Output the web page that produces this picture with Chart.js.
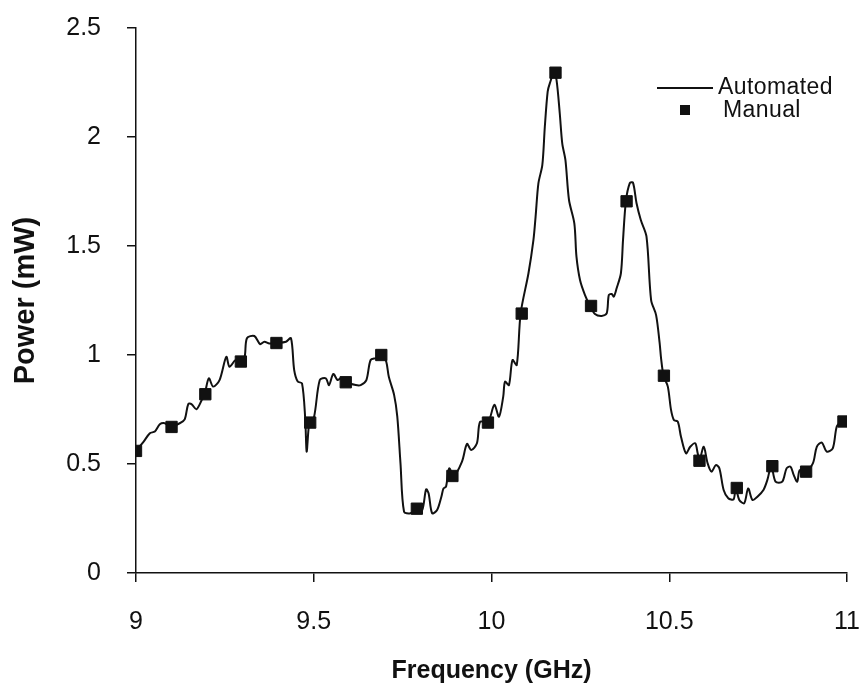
<!DOCTYPE html>
<html lang="en">
<head>
  <meta charset="UTF-8">
  <title>Power vs Frequency</title>
  <script src="https://cdn.jsdelivr.net/npm/chart.js"></script>
  <style>
    body {
      margin: 0;
      background: #ffffff;
      font-family: 'Liberation Sans', Arial, sans-serif;
    }
    .wrap {
      position: relative;
      width: 866px;
      height: 690px;
    }
    /* legend sits inside the plot, top right */
    .legend {
      position: absolute;
      left: 657px;
      top: 75px;
      color: #111;
      font-size: 23px;
      letter-spacing: 0.4px;
    }
    .legend-row { display: flex; align-items: center; height: 23px; }
    .legend-line { width: 56px; height: 2px; background: #111; margin: 3px 5px 0 0; }
    .legend-box { width: 10px; height: 10px; background: #111; margin: 0 33px 0 23px; }
  </style>
</head>
<body>
  <div class="wrap">
    <canvas id="chart" width="866" height="690"></canvas>
    <div class="legend">
      <div class="legend-row"><span class="legend-line"></span>Automated</div>
      <div class="legend-row"><span class="legend-box"></span>Manual</div>
    </div>
  </div>

  <script>
    // Automated sweep (GHz, mW)
    const autoFreq = [
      9.000, 9.021, 9.039, 9.053, 9.067, 9.081, 9.097, 9.123, 9.137, 9.147, 9.156, 9.170, 9.184, 9.193,
      9.205, 9.217, 9.235, 9.254, 9.263, 9.280, 9.293, 9.305, 9.312, 9.333, 9.349, 9.361, 9.375, 9.394,
      9.422, 9.436, 9.445, 9.455, 9.467, 9.476, 9.480, 9.486, 9.490, 9.501, 9.517, 9.534, 9.543, 9.555,
      9.567, 9.576, 9.592, 9.618, 9.632, 9.648, 9.660, 9.676, 9.693, 9.704, 9.711, 9.726, 9.735, 9.744,
      9.754, 9.772, 9.791, 9.805, 9.816, 9.823, 9.833, 9.847, 9.859, 9.865, 9.872, 9.881, 9.894, 9.917,
      9.931, 9.943, 9.959, 9.968, 9.990, 10.008, 10.021, 10.033, 10.038, 10.049, 10.059, 10.071, 10.082,
      10.104, 10.118, 10.124, 10.132, 10.143, 10.150, 10.158, 10.164, 10.176, 10.183, 10.192, 10.199,
      10.208, 10.218, 10.233, 10.239, 10.249, 10.263, 10.277, 10.291, 10.310, 10.324, 10.330, 10.338,
      10.344, 10.352, 10.364, 10.370, 10.378, 10.389, 10.398, 10.408, 10.420, 10.436, 10.449, 10.463,
      10.473, 10.477, 10.484, 10.496, 10.505, 10.513, 10.524, 10.533, 10.547, 10.559, 10.573, 10.580,
      10.585, 10.597, 10.608, 10.619, 10.631, 10.641, 10.653, 10.666, 10.681, 10.687, 10.697, 10.711,
      10.722, 10.734, 10.748, 10.765, 10.776, 10.787, 10.799, 10.818, 10.830, 10.841, 10.850, 10.860,
      10.867, 10.883, 10.904, 10.915, 10.929, 10.943, 10.960, 10.971, 10.983
    ];
    const autoPower = [
      0.561, 0.602, 0.641, 0.649, 0.682, 0.687, 0.672, 0.687, 0.705, 0.775, 0.775, 0.751, 0.790, 0.821,
      0.893, 0.855, 0.885, 0.992, 0.946, 0.977, 0.975, 0.986, 1.077, 1.087, 1.050, 1.061, 1.053, 1.055,
      1.061, 1.077, 0.931, 0.878, 0.870, 0.709, 0.557, 0.671, 0.690, 0.717, 0.885, 0.893, 0.862, 0.913,
      0.885, 0.893, 0.875, 0.862, 0.862, 0.885, 0.977, 0.986, 1.000, 0.969, 0.901, 0.817, 0.717, 0.503,
      0.281, 0.274, 0.295, 0.289, 0.384, 0.366, 0.274, 0.289, 0.350, 0.388, 0.396, 0.480, 0.446, 0.511,
      0.592, 0.564, 0.595, 0.694, 0.691, 0.771, 0.717, 0.809, 0.878, 0.862, 0.977, 0.954, 1.191,
      1.375, 1.528, 1.634, 1.788, 1.872, 2.047, 2.208, 2.246, 2.295, 2.261, 2.109, 1.971,
      1.894, 1.711, 1.604, 1.451, 1.344, 1.275, 1.226, 1.188, 1.179, 1.191, 1.275, 1.280,
      1.268, 1.306, 1.375, 1.528, 1.705, 1.788, 1.791, 1.696, 1.619, 1.543, 1.252, 1.183,
      1.054, 0.985, 0.905, 0.855, 0.748, 0.702, 0.694, 0.625, 0.549, 0.579, 0.595, 0.549,
      0.517, 0.579, 0.503, 0.465, 0.495, 0.480, 0.381, 0.343, 0.338, 0.391, 0.335, 0.320,
      0.388, 0.335, 0.350, 0.381, 0.427, 0.492, 0.419, 0.419, 0.480, 0.488, 0.450, 0.419,
      0.472, 0.465, 0.503, 0.579, 0.598, 0.557, 0.572, 0.671, 0.696
    ];

    // Manual readings
    const manualFreq = [9.0, 9.1, 9.195, 9.295, 9.395, 9.49, 9.59, 9.69, 9.79, 9.89, 9.99,
                        10.085, 10.18, 10.28, 10.38, 10.485, 10.585, 10.69, 10.79, 10.885, 10.99];
    const manualPower = [0.56, 0.67, 0.82, 0.97, 1.055, 0.69, 0.875, 1.0, 0.295, 0.445, 0.69,
                         1.19, 2.295, 1.225, 1.705, 0.905, 0.515, 0.39, 0.49, 0.465, 0.695];

    const xTicks = [9, 9.5, 10, 10.5, 11];
    const yTicks = [0, 0.5, 1, 1.5, 2, 2.5];

    const toPoints = (xs, ys) => xs.map((x, i) => ({ x: x, y: ys[i] }));

    const ink = '#111111';
    const tickFont = { family: 'Liberation Sans', size: 25 };

    new Chart(document.getElementById('chart'), {
      type: 'scatter',
      data: {
        datasets: [
          {
            label: 'Automated',
            data: toPoints(autoFreq, autoPower),
            showLine: true,
            borderColor: ink,
            borderWidth: 2,
            pointRadius: 0,
            tension: 0.3,
            order: 2
          },
          {
            label: 'Manual',
            data: toPoints(manualFreq, manualPower),
            pointStyle: 'rect',
            pointRadius: 8,
            backgroundColor: ink,
            borderColor: ink,
            borderWidth: 1,
            order: 1
          }
        ]
      },
      options: {
        responsive: false,
        animation: false,
        layout: { padding: { left: 0, right: 19, top: 28, bottom: 0 } },
        plugins: {
          legend: { display: false },
          tooltip: { enabled: false }
        },
        scales: {
          x: {
            type: 'linear',
            min: 9, max: 11,
            afterBuildTicks: (s) => { s.ticks = xTicks.map(v => ({ value: v })); },
            // fixed axis box, no label overhang so the plot spans 136..847
            afterFit: (s) => { s.height = 117; s.paddingLeft = 0; s.paddingRight = 0; },
            grid: { drawOnChartArea: false, drawTicks: true, tickLength: 9, color: ink, lineWidth: 1.5 },
            border: { display: true, color: ink, width: 1.5 },
            ticks: { color: ink, padding: 25, font: tickFont, callback: (v) => String(v) },
            title: {
              display: true, text: 'Frequency (GHz)', color: ink, padding: { top: 9 },
              font: { family: 'Liberation Sans', size: 25, weight: 'bold' }
            }
          },
          y: {
            min: 0, max: 2.5,
            afterBuildTicks: (s) => { s.ticks = yTicks.map(v => ({ value: v })); },
            afterFit: (s) => { s.width = 136; s.paddingTop = 0; s.paddingBottom = 0; },
            grid: { drawOnChartArea: false, drawTicks: true, tickLength: 9, color: ink, lineWidth: 1.5 },
            border: { display: true, color: ink, width: 1.5 },
            ticks: { color: ink, padding: 26, font: tickFont, callback: (v) => String(v) },
            title: {
              display: true, text: 'Power (mW)', color: ink, padding: { top: 9 },
              font: { family: 'Liberation Sans', size: 29, weight: 'bold' }
            }
          }
        }
      }
    });
  </script>
</body>
</html>
